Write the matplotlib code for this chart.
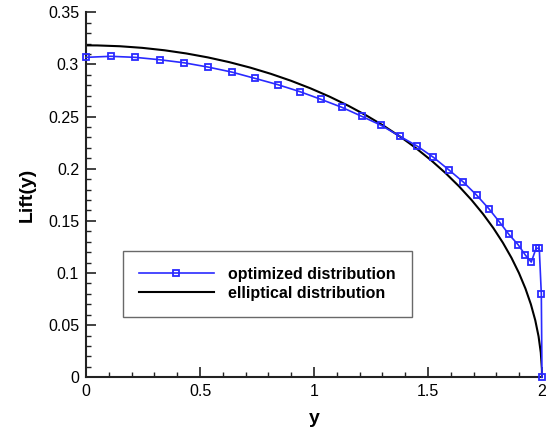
import matplotlib
matplotlib.use("Agg")
import matplotlib.pyplot as plt
from matplotlib.patches import Arc
from matplotlib.lines import Line2D
from matplotlib.ticker import MultipleLocator

plt.rcParams['font.family'] = ['Liberation Sans', 'DejaVu Sans']

# optimized lift distribution
span_y = [0.0, 0.108, 0.216, 0.324, 0.430, 0.535, 0.639, 0.740, 0.840, 0.937,
          1.031, 1.122, 1.210, 1.294, 1.375, 1.452, 1.524, 1.592, 1.655, 1.714,
          1.767, 1.815, 1.855, 1.895, 1.927, 1.953, 1.974, 1.988, 1.997, 2.0]
lift_opt = [0.3068, 0.3078, 0.3068, 0.3045, 0.3016, 0.2975, 0.2927, 0.2867, 0.2807, 0.2740,
            0.2665, 0.2589, 0.2502, 0.2417, 0.2313, 0.2218, 0.2109, 0.1988, 0.1872, 0.1745,
            0.1616, 0.1485, 0.1370, 0.1272, 0.1172, 0.1105, 0.1237, 0.1237, 0.0799, 0.0]

# elliptical distribution: semi-span and root value
ell_semispan = 2.0
ell_peak = 0.3183

labels = ["optimized distribution", "elliptical distribution"]
blue = "#2a2aff"

fig = plt.figure(figsize=(5.46, 4.29), dpi=100)
ax = fig.add_axes([86/546, 1-377.3/429, (542-86)/546, (377.3-12.3)/429])

ax.add_patch(Arc((0, 0), 2*ell_semispan, 2*ell_peak, theta1=0, theta2=90,
                 color="black", lw=1.5, zorder=2))
ax.plot(span_y, lift_opt, color=blue, lw=1.2, marker="s", ms=5,
        mfc="none", mec=blue, mew=1.3, zorder=3, clip_on=False)

ax.set_xlim(0, 2)
ax.set_ylim(0, 0.35)
ax.xaxis.set_major_locator(MultipleLocator(0.5))
ax.xaxis.set_minor_locator(MultipleLocator(0.1))
ax.yaxis.set_major_locator(MultipleLocator(0.05))
ax.yaxis.set_minor_locator(MultipleLocator(0.01))
ax.set_xticks([0, 0.5, 1, 1.5, 2])
ax.set_xticklabels(["0", "0.5", "1", "1.5", "2"])
ax.set_yticks([0, 0.05, 0.1, 0.15, 0.2, 0.25, 0.3, 0.35])
ax.set_yticklabels(["0", "0.05", "0.1", "0.15", "0.2", "0.25", "0.3", "0.35"])

for s in ["top", "right"]:
    ax.spines[s].set_visible(False)
for s in ["left", "bottom"]:
    ax.spines[s].set_linewidth(1.5)
    ax.spines[s].set_color("#222222")
ax.tick_params(which="major", direction="in", length=7.5, width=1.2, labelsize=11.5,
               pad=5, color="#222222")
ax.tick_params(which="minor", direction="in", length=3.8, width=1.0, color="#222222")

ax.set_xlabel("y", fontsize=14, fontweight="bold", labelpad=8)
ax.set_ylabel("Lift(y)", fontsize=14, fontweight="bold", labelpad=9)

handles = [Line2D([], [], color=blue, lw=1.2, marker="s", ms=5, mfc="none", mec=blue, mew=1.3),
           Line2D([], [], color="black", lw=1.5)]
leg = ax.legend(handles, labels, loc="upper right",
                bbox_to_anchor=(412/546, 1-251/429), bbox_transform=fig.transFigure,
                prop={"size": 11.5, "weight": "bold"}, frameon=True, fancybox=False,
                handlelength=4.7, handletextpad=0.9, borderpad=1.0, labelspacing=0.25,
                borderaxespad=0, markerscale=0.8)
leg.get_frame().set_edgecolor("#444444")
leg.get_frame().set_linewidth(1.0)

fig.savefig("out.png", dpi=100)
